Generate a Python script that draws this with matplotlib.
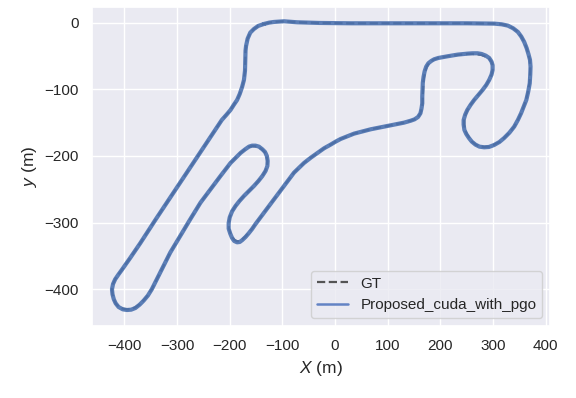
import matplotlib
matplotlib.use("Agg")
import matplotlib.pyplot as plt
import seaborn as sns
from matplotlib.lines import Line2D

# 軌跡データ (m)  GT
gt_x = [-135, -125, -116, -97, -72, -30, 30, 100, 180, 250,
        302, 316, 328, 338, 347, 353.5, 359, 363.5, 367, 369.5,
        370.5, 370, 369, 366, 362.5, 358, 353, 347, 340, 331,
        321, 312, 302, 292, 283, 274, 267, 260, 255, 250,
        246.5, 245, 245, 247.5, 251.5, 257.5, 264, 272, 280, 287,
        292.5, 297, 299, 299, 297, 292.5, 286, 278, 270.5, 261,
        251.5, 232.5, 213.5, 196, 188.5, 183, 178, 174, 171, 169,
        167.5, 167, 166.5, 166, 164.5, 162, 157.5, 151, 144, 131,
        99.5, 67.5, 36, 10.5, 1, -8.5, -21, -33.5, -46, -59,
        -78, -97, -116, -135, -143, -151, -157.5, -163.5, -170, -176,
        -181, -186, -191, -195, -198.5, -201.5, -201.5, -200, -195.5, -189,
        -181.5, -173, -163.5, -154, -145.5, -138, -132.5, -129, -128.5, -130,
        -133.5, -138, -144.5, -151, -157.5, -163.5, -171.5, -179.5, -198.5, -217.5,
        -236.5, -255.5, -275, -294, -313, -332, -340, -348, -355.5, -363.5,
        -371, -379, -387, -395, -403, -411, -416.5, -420, -422.5, -423.5,
        -421.5, -417.5, -411, -405, -397, -389, -379.5, -370, -360.5, -351,
        -340, -300, -260, -215, -206, -198.5, -192, -186, -181, -176.5,
        -173, -171, -170.5, -170, -169, -166, -161, -154, -146, -135]
gt_y = [-2, 0, 1, 2, 0.5, -0.5, -1, -1, -1, -1,
        -1.5, -2.5, -4.5, -8.5, -14, -21, -29, -38, -47, -56,
        -66, -78, -91, -104, -116, -126, -136, -146, -156, -165,
        -173, -179, -183, -186, -186.5, -185.5, -183, -178.5, -173, -167,
        -161, -153, -146, -138, -131, -123, -116, -108.5, -101, -93.5,
        -86, -78, -71, -64, -59, -54, -51, -48.5, -47.5, -47,
        -47, -48.5, -50.5, -53, -55, -57.5, -61, -66, -73, -81,
        -90, -101, -111, -121, -129, -136, -141.5, -145, -147, -150,
        -155, -160, -166.5, -174.5, -178.5, -183, -188.5, -195.5, -202.5, -210.5,
        -225, -245, -265, -285, -293.5, -302, -309, -315, -320.5, -325,
        -327.5, -328, -326, -322, -316, -309, -300.5, -292, -283, -275,
        -267.5, -260, -252.5, -245, -237.5, -230, -222.5, -215, -207.5, -200,
        -194.5, -190.5, -187, -185.5, -185, -186.5, -190.5, -195.5, -210.5, -230,
        -250, -270, -295, -320, -345, -375, -388, -400, -409, -416.5,
        -422.5, -427, -429.5, -430, -429, -426, -421, -415, -407.5, -400,
        -392, -385, -377.5, -371, -362, -353, -342, -331, -319.5, -308,
        -294.5, -247, -199.5, -146, -138, -131, -123, -116, -107, -96.5,
        -86, -72, -57, -42, -35, -24, -15, -9.5, -5, -2]

# 推定軌跡 Proposed_cuda_with_pgo
est_x = [-135, -125, -116, -97, -72, -30, 30, 100, 180, 250,
         302, 316, 328, 338, 347, 353.5, 359, 363.5, 367, 370,
         371, 370.5, 369.5, 366.5, 363, 358, 353, 347, 340, 331,
         321, 312, 302, 292, 283, 274, 266.5, 259.5, 254, 249,
         245.5, 244, 244, 247, 251, 257.5, 264, 272, 280, 287,
         292.5, 297, 299, 299, 297, 292.5, 286, 278, 270.5, 261,
         251.5, 232.5, 213.5, 196, 188, 182.5, 177, 173, 170, 168,
         166.5, 166, 165.5, 165.5, 164, 162, 157.5, 151, 144, 131,
         99.5, 67.5, 36, 10.5, 1, -8.5, -21, -33.5, -46, -59,
         -78, -97, -116, -135, -143, -151, -157.5, -163.5, -170, -176,
         -181, -186, -191.5, -195.5, -199, -202, -202, -200, -195.5, -189,
         -181.5, -173, -163.5, -154, -145.5, -138, -132, -128.5, -128, -129.5,
         -133, -138, -144.5, -151, -157.5, -163.5, -171.5, -179.5, -198.5, -217.5,
         -236.5, -255.5, -275, -294, -313, -332, -340, -348, -355.5, -363.5,
         -371, -379, -387, -395, -403, -411, -416.5, -420, -422.5, -423.5,
         -421.5, -417.5, -411, -405, -397, -389, -379.5, -370, -360.5, -351,
         -340, -300, -260, -215, -206, -198.5, -192, -186, -181, -176.5,
         -173, -171, -170.5, -170, -169, -166, -161, -154, -146, -135]
est_y = [-2, 0, 1, 2, 0.5, -0.5, -1, -1, -1, -1,
         -1.5, -2.5, -4.5, -8.5, -14, -21, -29, -38, -47, -56,
         -66, -78, -91, -104, -116, -126, -136, -146, -156, -165,
         -173, -179, -183.5, -186.5, -187, -186, -183, -178.5, -173, -167,
         -161, -153, -146, -138, -131, -123, -116, -108.5, -101, -93.5,
         -86, -78, -71, -64, -58.5, -53, -49.5, -47, -46, -46,
         -46.5, -48, -50.5, -53, -55, -57.5, -61, -66, -73, -81,
         -90, -101, -111, -121, -129, -136, -141.5, -145, -147, -150,
         -155, -160, -166.5, -174.5, -178.5, -183, -188.5, -195.5, -202.5, -210.5,
         -225, -245, -265, -285, -293.5, -302, -309.5, -315.5, -321.5, -326,
         -329, -329.5, -327.5, -323, -316.5, -309, -300.5, -292, -283, -275,
         -267.5, -260, -252.5, -245, -237.5, -230, -222.5, -215, -207.5, -200,
         -194, -190, -186, -184.5, -184.5, -186, -190.5, -195.5, -210.5, -230,
         -250, -270, -295, -320, -345, -375, -388, -400, -409.5, -417,
         -423, -428, -430.5, -431, -430, -426.5, -421, -415, -407.5, -400,
         -392, -385, -377.5, -371, -362, -353, -342, -331, -319.5, -308,
         -294.5, -247, -199.5, -146, -138, -131, -123, -116, -107, -96.5,
         -86, -72, -57, -42, -35, -24, -15, -9.5, -5, -2]

sns.set_theme(style="darkgrid")
plt.rcParams["font.family"] = ["Liberation Sans", "DejaVu Sans"]
plt.rcParams["mathtext.fontset"] = "custom"
plt.rcParams["mathtext.rm"] = "Liberation Sans"
plt.rcParams["mathtext.it"] = "Liberation Sans:italic"

fig = plt.figure(figsize=(5.76, 3.98), dpi=100)
ax = fig.add_axes([0.1592, 0.1809, 0.7957, 0.8008])

ax.plot(gt_x, gt_y, "--", color="#555555", lw=1.6)
ax.plot(est_x, est_y, "-", color="#4C72B0", lw=3.0, alpha=0.9,
        solid_joinstyle="round", solid_capstyle="round")

ax.set_xlim(-462, 408)
ax.set_ylim(-455, 23)
ax.set_xticks(range(-400, 401, 100))
ax.set_yticks(range(-400, 1, 100))
ax.tick_params(labelsize=11)
ax.set_xlabel(r"$X$ (m)", fontsize=12.5)
ax.set_ylabel(r"$y$ (m)", fontsize=12.5)

handles = [Line2D([], [], ls="--", color="#555555", lw=1.6),
           Line2D([], [], ls="-", color="#6383C4", lw=1.8)]
ax.legend(handles, ["GT", "Proposed_cuda_with_pgo"], loc="lower right",
          fontsize=11)

fig.savefig("out.png", dpi=100)
